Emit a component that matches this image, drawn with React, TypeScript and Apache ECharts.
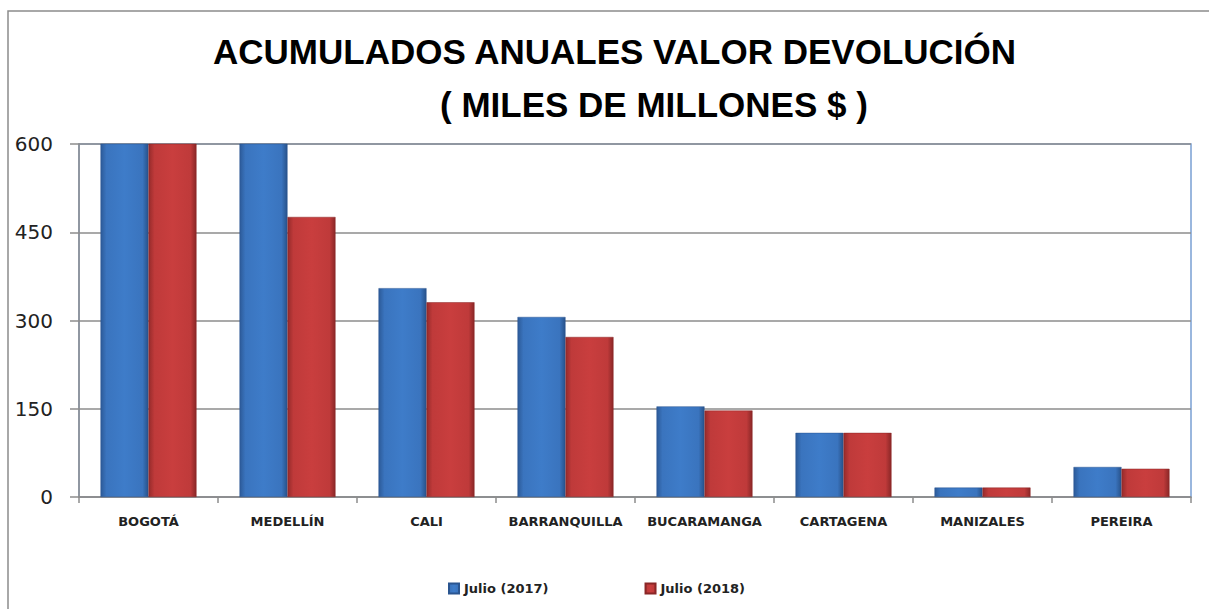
import React, { useEffect, useRef } from "react";
import * as echarts from "echarts";

const titleLine1 = "ACUMULADOS ANUALES VALOR DEVOLUCIÓN";
const titleLine2 = "( MILES DE MILLONES $ )";
const categories = ["BOGOTÁ", "MEDELLÍN", "CALI", "BARRANQUILLA", "BUCARAMANGA", "CARTAGENA", "MANIZALES", "PEREIRA"];
const seriesNames = ["Julio (2017)", "Julio (2018)"];
const julio2017 = [1250, 640, 355, 306, 154, 109, 16, 51];
const julio2018 = [1200, 476, 331, 272, 147, 109, 16, 48];
const yTicks = { min: 0, max: 600, interval: 150 };

const blueGrad = new echarts.graphic.LinearGradient(0, 0, 1, 0, [
  { offset: 0, color: "#2c5a98" },
  { offset: 0.12, color: "#3a74be" },
  { offset: 0.5, color: "#3e7cc9" },
  { offset: 0.88, color: "#3a74be" },
  { offset: 1, color: "#28528a" },
]);
const redGrad = new echarts.graphic.LinearGradient(0, 0, 1, 0, [
  { offset: 0, color: "#962b2b" },
  { offset: 0.12, color: "#bf3a3a" },
  { offset: 0.5, color: "#c93e3e" },
  { offset: 0.88, color: "#bf3a3a" },
  { offset: 1, color: "#8a2727" },
]);

export default function App() {
  const ref = useRef<HTMLDivElement>(null);
  useEffect(() => {
    if (!ref.current) return;
    const chart = echarts.init(ref.current, null, { renderer: "svg" });
    chart.setOption({
      animation: false,
      backgroundColor: "#ffffff",
      title: [
        {
          text: titleLine1,
          left: 213,
          top: 34,
          padding: 0,
          textStyle: { fontFamily: "Liberation Sans", fontWeight: "bold", fontSize: 35, color: "#000" },
        },
        {
          text: titleLine2,
          left: 440,
          top: 87,
          padding: 0,
          textStyle: { fontFamily: "Liberation Sans", fontWeight: "bold", fontSize: 35, color: "#000" },
        },
      ],
      graphic: [
        {
          type: "rect",
          shape: { x: 8, y: 11, width: 1400, height: 800 },
          style: { fill: "none", stroke: "#8c8c8c", lineWidth: 1.5 },
          silent: true,
        },
      ],
      legend: {
        data: seriesNames,
        left: 448,
        top: 582,
        itemWidth: 10,
        itemHeight: 10,
        itemGap: 96,
        padding: 0,
        icon: "rect",
        textStyle: { fontFamily: "DejaVu Sans", fontWeight: "bold", fontSize: 13, color: "#222" },
      },
      grid: {
        left: 79,
        right: 18,
        top: 144,
        bottom: 112,
        show: true,
        borderColor: "#7aa0d4",
        borderWidth: 1.5,
        containLabel: false,
      },
      xAxis: {
        type: "category",
        data: categories,
        axisLine: { show: true, lineStyle: { color: "#8c8c8c", width: 1.5 } },
        axisTick: { show: true, length: 6, lineStyle: { color: "#8c8c8c", width: 1.5 } },
        axisLabel: {
          margin: 18,
          interval: 0,
          fontFamily: "DejaVu Sans",
          fontWeight: "bold",
          fontSize: 13,
          color: "#222",
        },
      },
      yAxis: {
        type: "value",
        min: yTicks.min,
        max: yTicks.max,
        interval: yTicks.interval,
        axisLine: { show: true, lineStyle: { color: "#8c8c8c", width: 1.5 } },
        axisTick: { show: true, length: 9, lineStyle: { color: "#8c8c8c", width: 1.5 } },
        splitLine: { show: true, lineStyle: { color: "#8c8c8c", width: 1.5 } },
        axisLabel: { margin: 26, fontFamily: "DejaVu Sans", fontSize: 20, color: "#222" },
      },
      series: [
        {
          name: seriesNames[0],
          type: "bar",
          data: julio2017,
          barWidth: 48,
          barGap: "0%",
          clip: true,
          itemStyle: { color: blueGrad, borderColor: "#2a5590", borderWidth: 0.5 },
        },
        {
          name: seriesNames[1],
          type: "bar",
          data: julio2018,
          barWidth: 48,
          barGap: "0%",
          clip: true,
          itemStyle: { color: redGrad, borderColor: "#8a2727", borderWidth: 0.5 },
        },
      ],
    });
    return () => chart.dispose();
  }, []);
  return (
    <div
      ref={ref}
      style={{ position: "fixed", left: 0, top: 0, width: 1209, height: 609, background: "#fff" }}
    />
  );
}
